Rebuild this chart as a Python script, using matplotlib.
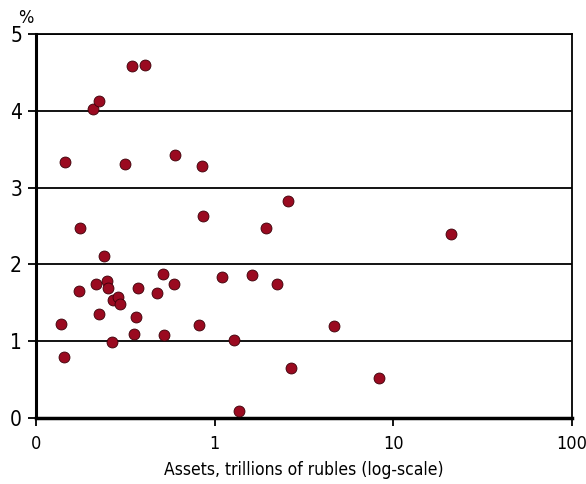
import numpy as np
import matplotlib.pyplot as plt
from matplotlib.ticker import FixedLocator, FixedFormatter

plt.rcParams['font.family'] = ['DejaVu Sans']
plt.rcParams['font.stretch'] = 'condensed'

# assets, trillions of rubles, and the percentage on the y axis
assets = [0.138, 0.144, 0.146, 0.176, 0.175, 0.208, 0.225, 0.218, 0.224, 0.241,
          0.249, 0.253, 0.265, 0.271, 0.286, 0.295, 0.315, 0.344, 0.406, 0.352,
          0.364, 0.372, 0.477, 0.512, 0.522, 0.59, 0.602, 0.813, 0.845, 0.86,
          1.10, 1.28, 1.36, 1.62, 1.93, 2.24, 2.58, 2.66, 4.65, 8.34, 21.1]
pct = [1.22, 0.80, 3.33, 2.47, 1.66, 4.02, 4.13, 1.75, 1.36, 2.11,
       1.79, 1.69, 0.99, 1.54, 1.58, 1.48, 3.31, 4.58, 4.60, 1.09,
       1.32, 1.69, 1.63, 1.87, 1.08, 1.75, 3.42, 1.21, 3.28, 2.63,
       1.84, 1.02, 0.09, 1.86, 2.47, 1.74, 2.83, 0.65, 1.20, 0.52, 2.39]

xticks = [0.1, 1, 10, 100]
xtick_labels = ['0', '1', '10', '100']
yticks = [0, 1, 2, 3, 4, 5]

fig = plt.figure(figsize=(5.86, 4.84), dpi=100)
ax = fig.add_axes([36 / 586, 66 / 484, 536 / 586, 384 / 484])

ax.set_xscale('log')
ax.set_xlim(0.1, 100)
ax.set_ylim(0, 5)

for y in yticks[1:]:
    ax.axhline(y, color='black', lw=1.3, zorder=1)

ax.scatter(assets, pct, s=62, color='#9a0a20', edgecolors='#3a0008',
           linewidths=0.6, zorder=3)

ax.xaxis.set_major_locator(FixedLocator(xticks))
ax.xaxis.set_major_formatter(FixedFormatter(xtick_labels))
ax.xaxis.set_minor_locator(FixedLocator([]))
ax.set_yticks(yticks)

for side in ['top', 'right']:
    ax.spines[side].set_linewidth(1.3)
ax.spines['left'].set_linewidth(2.2)
ax.spines['bottom'].set_linewidth(2.5)

ax.tick_params(axis='both', direction='out', length=6, width=1.3, pad=4)
ax.tick_params(axis='y', labelsize=15)
ax.tick_params(axis='x', labelsize=13, pad=6)
ax.set_xlabel('Assets, trillions of rubles (log-scale)', fontsize=12.5, labelpad=6)
fig.text(18 / 586, 457 / 484, '%', fontsize=13, ha='left', va='bottom')

fig.savefig('out.png', dpi=100)
